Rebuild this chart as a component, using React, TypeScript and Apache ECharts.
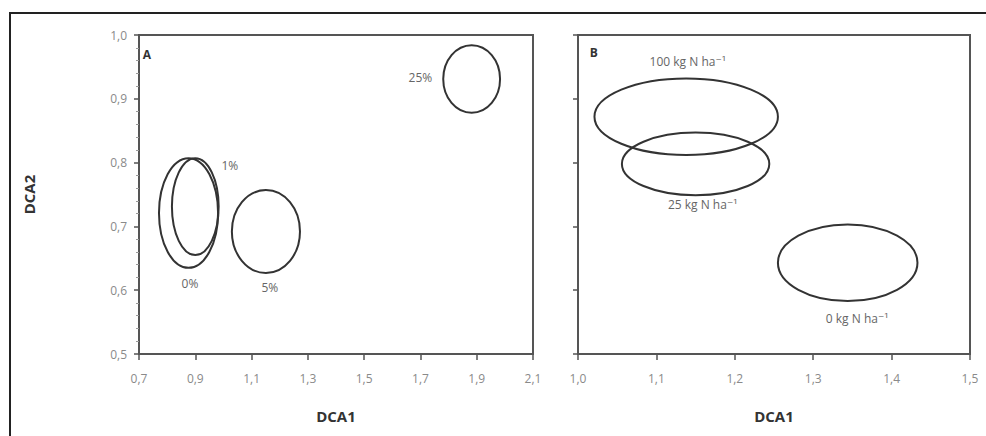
import React, { useEffect, useRef } from "react";
import * as echarts from "echarts";

// Panel A: ordination ellipses (DCA1 / DCA2)
const groupsA = ["0%", "1%", "5%", "25%"];
const centerXA = [0.876, 0.9, 1.151, 1.882];
const centerYA = [0.721, 0.731, 0.692, 0.931];
const radiusXA = [0.105, 0.083, 0.121, 0.101];
const radiusYA = [0.086, 0.076, 0.065, 0.053];
const labelXA = [0.881, 1.023, 1.165, 1.7];
const labelYA = [0.611, 0.796, 0.605, 0.933];

// Panel B
const groupsB = ["100 kg N ha⁻¹", "25 kg N ha⁻¹", "0 kg N ha⁻¹"];
const centerXB = [1.138, 1.15, 1.344];
const centerYB = [0.872, 0.798, 0.643];
const radiusXB = [0.117, 0.094, 0.089];
const radiusYB = [0.06, 0.049, 0.06];
const labelXB = [1.14, 1.159, 1.356];
const labelYB = [0.958, 0.734, 0.556];

const panelLetters = ["A", "B"];
const letterX = [0.728, 1.02];
const letterY = [0.969, 0.973];

const xTicksA = { min: 0.7, max: 2.1, interval: 0.2 };
const xTicksB = { min: 1.0, max: 1.5, interval: 0.1 };
const yTicks = { min: 0.5, max: 1.0, interval: 0.1 };

const FONT = "'Open Sans', 'DejaVu Sans', sans-serif";
const AXIS_COLOR = "#555";
const LABEL_COLOR = "#8a8a8a";

const fmt = (v: number) => v.toFixed(1).replace(".", ",");

function ellipseSeries(idx: number, cx: number[], cy: number[], rx: number[], ry: number[]) {
  return {
    type: "custom",
    xAxisIndex: idx,
    yAxisIndex: idx,
    silent: true,
    data: cx.map((x, i) => [x, cy[i], rx[i], ry[i]]),
    encode: { x: 0, y: 1 },
    renderItem: (params: any, api: any) => {
      const x = api.value(0);
      const y = api.value(1);
      const dx = api.value(2);
      const dy = api.value(3);
      const p0 = api.coord([x, y]);
      const p1 = api.coord([x + dx, y + dy]);
      return {
        type: "ellipse",
        shape: { cx: p0[0], cy: p0[1], rx: Math.abs(p1[0] - p0[0]), ry: Math.abs(p1[1] - p0[1]) },
        style: { fill: "none", stroke: "#333", lineWidth: 2 },
      };
    },
  };
}

function labelSeries(idx: number, names: string[], lx: number[], ly: number[], bold: boolean) {
  return {
    type: "custom",
    xAxisIndex: idx,
    yAxisIndex: idx,
    silent: true,
    data: names.map((n, i) => [lx[i], ly[i], n]),
    encode: { x: 0, y: 1 },
    renderItem: (params: any, api: any) => {
      const p = api.coord([api.value(0), api.value(1)]);
      const text = names[params.dataIndex];
      return {
        type: "text",
        x: p[0],
        y: p[1],
        style: {
          text,
          fill: bold ? "#333" : "#666",
          fontSize: 12,
          fontWeight: bold ? "bold" : "normal",
          fontFamily: FONT,
          align: "center",
          verticalAlign: "middle",
        },
      };
    },
  };
}

function xAxis(idx: number, t: { min: number; max: number; interval: number }) {
  return {
    type: "value",
    gridIndex: idx,
    min: t.min,
    max: t.max,
    interval: t.interval,
    name: "DCA1",
    nameLocation: "middle",
    nameGap: 54,
    nameTextStyle: { fontFamily: FONT, fontWeight: "bold", fontSize: 15, color: "#333" },
    axisLine: { show: true, lineStyle: { color: AXIS_COLOR, width: 2 } },
    axisTick: { show: true, inside: false, length: 6, lineStyle: { color: AXIS_COLOR, width: 1.5 } },
    axisLabel: { show: true, formatter: fmt, color: LABEL_COLOR, fontFamily: FONT, fontSize: 12, margin: 18 },
    splitLine: { show: false },
  };
}

function yAxis(idx: number, showLabels: boolean) {
  return {
    type: "value",
    gridIndex: idx,
    min: yTicks.min,
    max: yTicks.max,
    interval: yTicks.interval,
    name: showLabels ? "DCA2" : "",
    nameLocation: "middle",
    nameRotate: 90,
    nameGap: 103,
    nameTextStyle: { fontFamily: FONT, fontWeight: "bold", fontSize: 15, color: "#333" },
    axisLine: { show: true, lineStyle: { color: AXIS_COLOR, width: 2 } },
    axisTick: { show: true, inside: false, length: 5, lineStyle: { color: AXIS_COLOR, width: 1.5 } },
    minorTick: { show: showLabels, splitNumber: 5, length: 3, lineStyle: { color: "#999", width: 1 } },
    axisLabel: { show: showLabels, formatter: fmt, color: LABEL_COLOR, fontFamily: FONT, fontSize: 12, margin: 12 },
    splitLine: { show: false },
  };
}

export default function App() {
  const ref = useRef<HTMLDivElement>(null);
  useEffect(() => {
    if (!ref.current) return;
    const chart = echarts.init(ref.current, undefined, { renderer: "svg" });
    chart.setOption({
      animation: false,
      backgroundColor: "#fff",
      grid: [
        { left: 139, top: 35, width: 394, height: 319, show: true, borderColor: AXIS_COLOR, borderWidth: 2, backgroundColor: "transparent" },
        { left: 578, top: 35, width: 392, height: 319, show: true, borderColor: AXIS_COLOR, borderWidth: 2, backgroundColor: "transparent" },
      ],
      xAxis: [xAxis(0, xTicksA), xAxis(1, xTicksB)],
      yAxis: [yAxis(0, true), yAxis(1, false)],
      graphic: [
        {
          type: "polyline",
          shape: { points: [[10, 436], [10, 13], [986, 13]] },
          style: { stroke: "#222", lineWidth: 2, fill: "none" },
          silent: true,
        },
      ],
      series: [
        ellipseSeries(0, centerXA, centerYA, radiusXA, radiusYA),
        ellipseSeries(1, centerXB, centerYB, radiusXB, radiusYB),
        labelSeries(0, groupsA, labelXA, labelYA, false),
        labelSeries(1, groupsB, labelXB, labelYB, false),
        labelSeries(0, [panelLetters[0]], [letterX[0]], [letterY[0]], true),
        labelSeries(1, [panelLetters[1]], [letterX[1]], [letterY[1]], true),
      ],
    });
    return () => chart.dispose();
  }, []);
  return (
    <div
      ref={ref}
      style={{ position: "fixed", left: 0, top: 0, width: 986, height: 436, background: "#fff" }}
    />
  );
}
